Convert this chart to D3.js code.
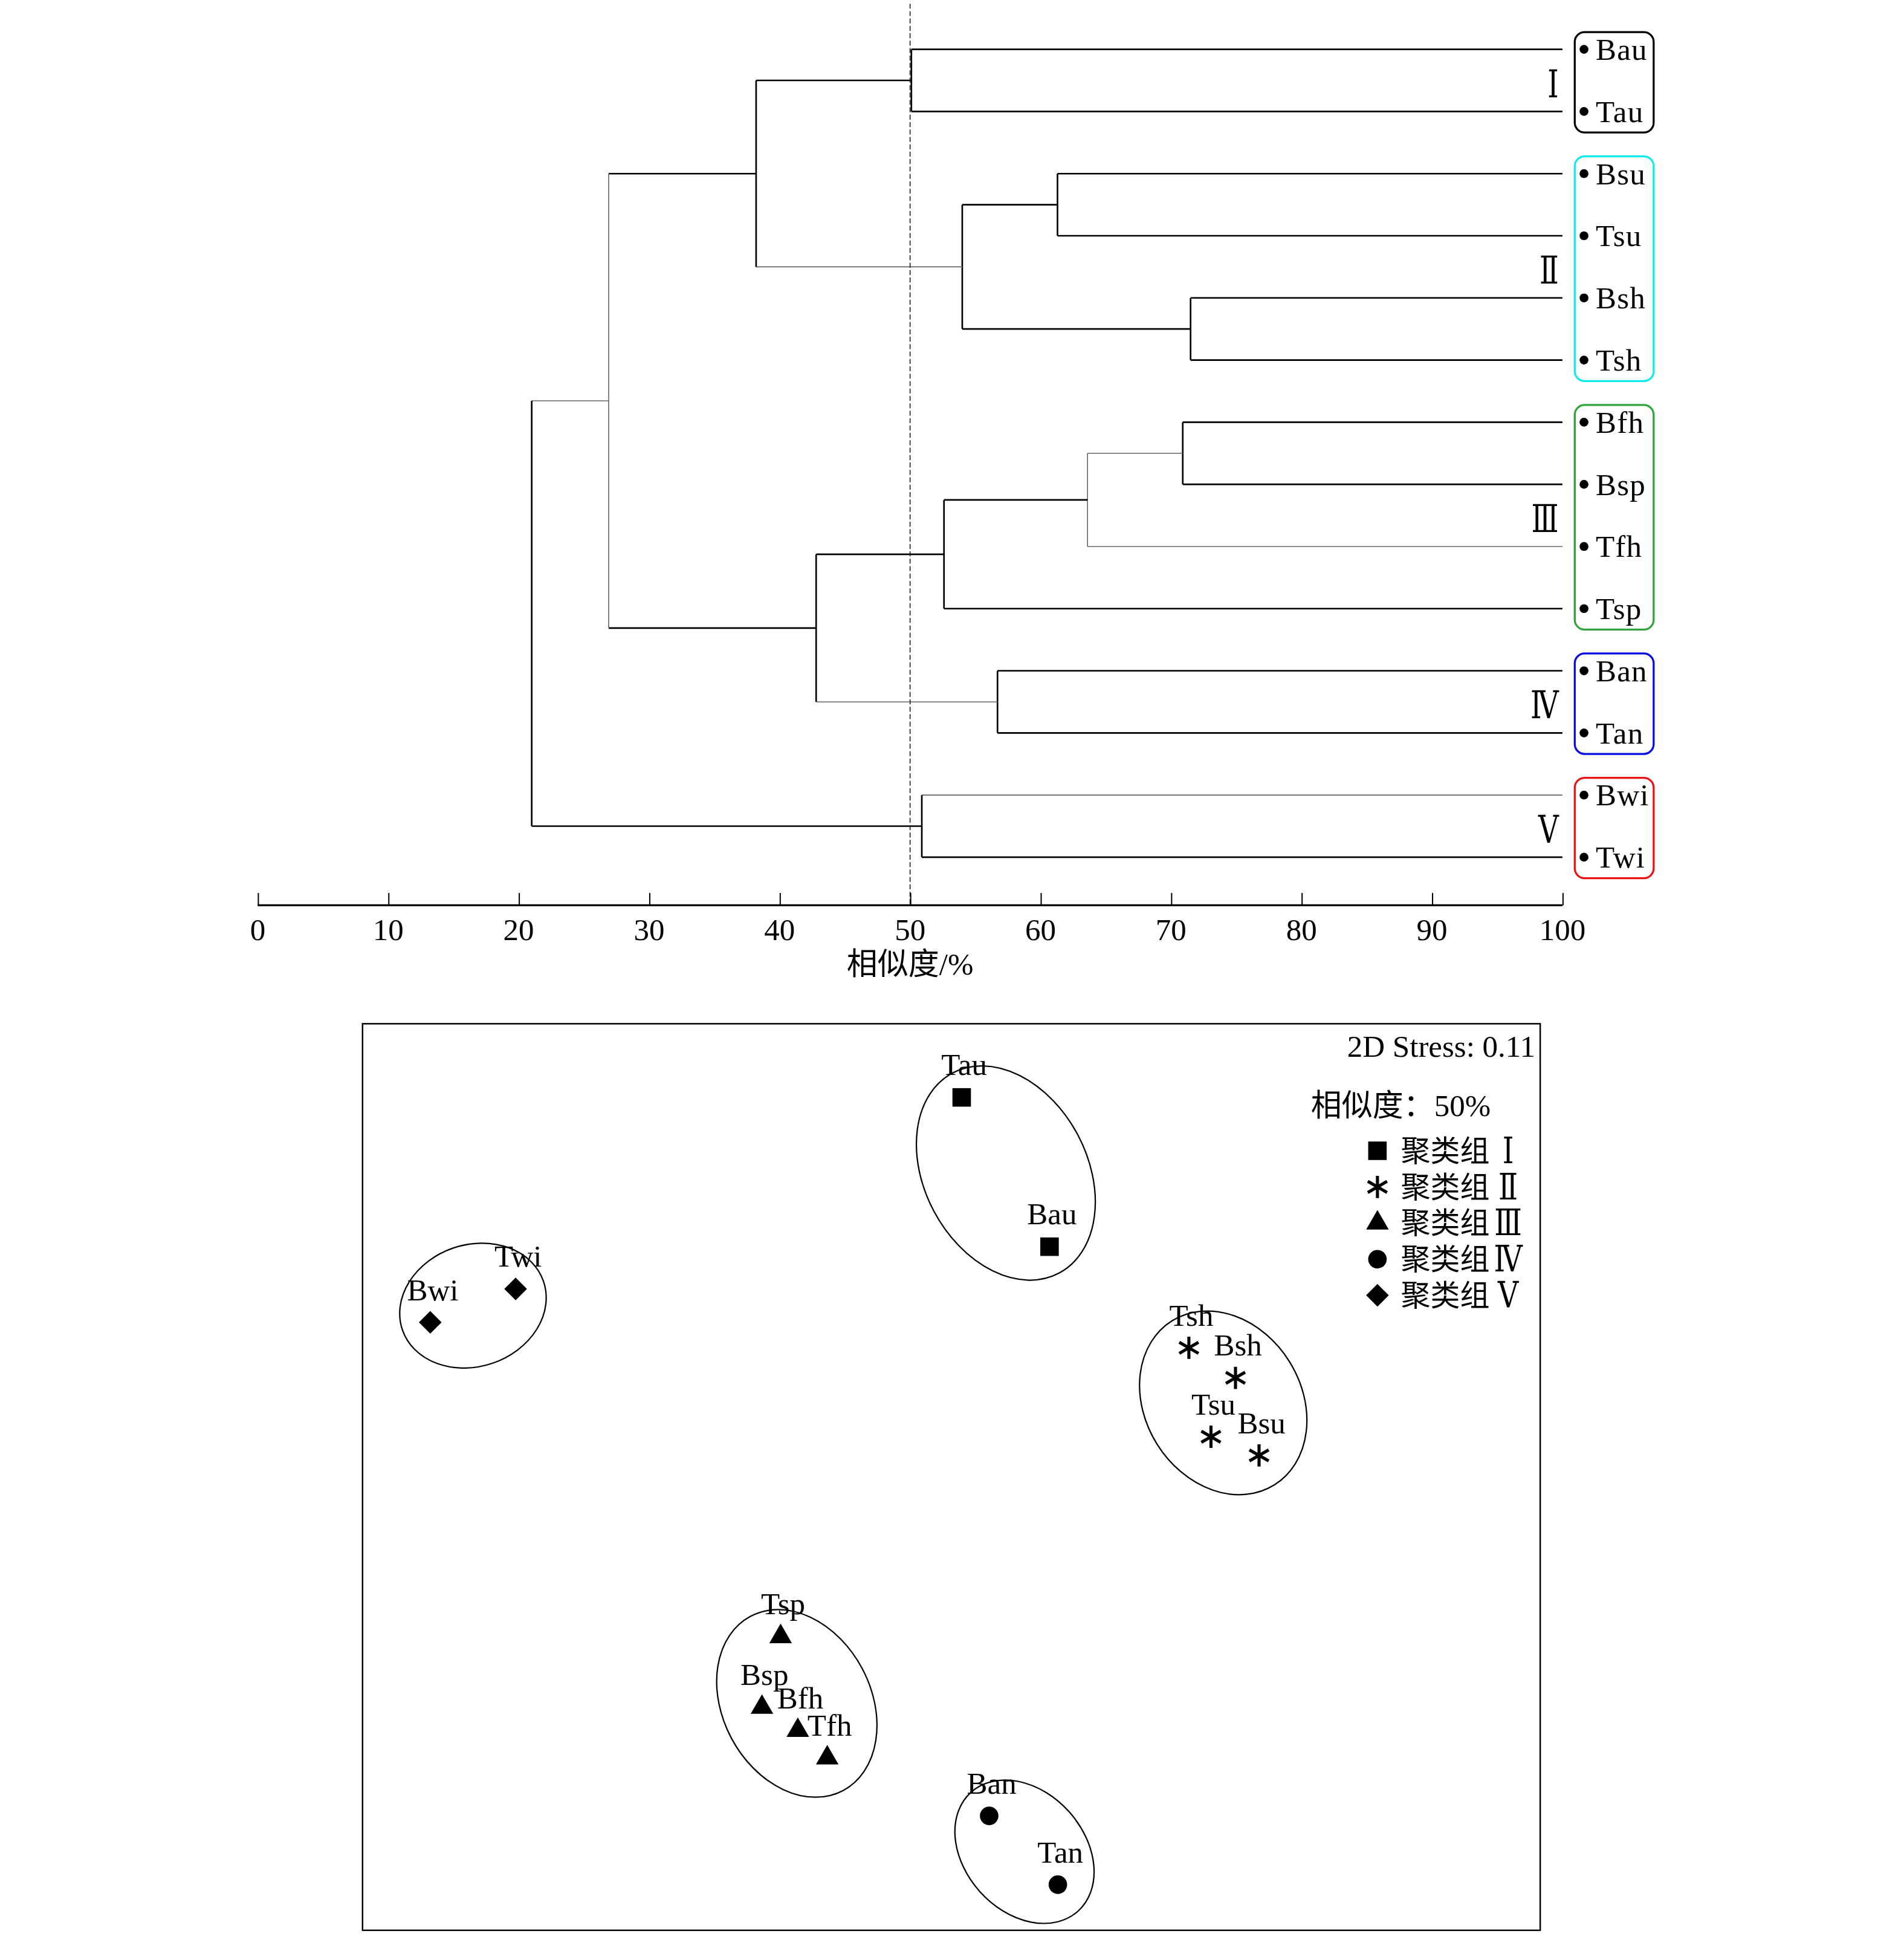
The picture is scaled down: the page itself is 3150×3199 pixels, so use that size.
<!DOCTYPE html>
<html>
<head>
<meta charset="utf-8">
<script src="https://cdn.jsdelivr.net/npm/d3@7"></script>
<style>
  html, body { margin: 0; padding: 0; background: #fff; }
  svg { display: block; }
</style>
</head>
<body>
<div id="chart"></div>
<script>
// ---- data: cluster dendrogram ----
const leaves = ['Bau', 'Tau', 'Bsu', 'Tsu', 'Bsh', 'Tsh', 'Bfh', 'Bsp', 'Tfh', 'Tsp', 'Ban', 'Tan', 'Bwi', 'Twi'];
const mergeIds = ['m1', 'm2', 'm3', 'm4', 'm5', 'm6', 'm7', 'm8', 'm9', 'm10', 'm11', 'm12', 'm13'];
const mergeLeft = ['Bau', 'Bsu', 'Bsh', 'm2', 'm1', 'Bfh', 'm6', 'm7', 'Ban', 'm8', 'm5', 'Bwi', 'm11'];
const mergeRight = ['Tau', 'Tsu', 'Tsh', 'm3', 'm4', 'Bsp', 'Tfh', 'Tsp', 'Tan', 'm9', 'm10', 'Twi', 'm12'];
const mergeSimilarity = [50.1, 61.3, 71.5, 54.0, 38.2, 70.9, 63.6, 52.6, 56.7, 42.8, 26.9, 50.9, 21.0];
const simTicks = [0, 10, 20, 30, 40, 50, 60, 70, 80, 90, 100];
const cutoff = 50;

const clusterNames = ['Ⅰ', 'Ⅱ', 'Ⅲ', 'Ⅳ', 'Ⅴ'];
const clusterMembers = [
  ['Bau', 'Tau'],
  ['Bsu', 'Tsu', 'Bsh', 'Tsh'],
  ['Bfh', 'Bsp', 'Tfh', 'Tsp'],
  ['Ban', 'Tan'],
  ['Bwi', 'Twi'],
];
const clusterColors = ['#000000', '#14eaea', '#2ea43a', '#0a0ae6', '#ee1111'];

// ---- data: nMDS ordination ----
const samples = ['Tau', 'Bau', 'Twi', 'Bwi', 'Tsh', 'Bsh', 'Tsu', 'Bsu', 'Tsp', 'Bsp', 'Bfh', 'Tfh', 'Ban', 'Tan'];
const mds1 = [0.021, 0.200, -0.888, -1.062, 0.484, 0.579, 0.529, 0.627, -0.348, -0.386, -0.313, -0.253, 0.077, 0.217];
const mds2 = [0.773, 0.469, 0.383, 0.315, 0.263, 0.202, 0.082, 0.044, -0.325, -0.469, -0.516, -0.572, -0.690, -0.830];
const sampleCluster = [0, 0, 4, 4, 1, 1, 1, 1, 2, 2, 2, 2, 3, 3];

// 50% similarity contours, one per cluster (MDS units)
const ellipseCx = [0.111, 0.554, -0.315, 0.149, -0.975];
const ellipseCy = [0.619, 0.151, -0.461, -0.763, 0.349];
const ellipseA = [0.231, 0.197, 0.201, 0.163, 0.152];
const ellipseB = [0.166, 0.159, 0.151, 0.122, 0.124];
const ellipseTilt = [62, 58, 62, 48, -19];

const stressText = '2D Stress: 0.11';
const contourText = '相似度：50%';
const legendPrefix = '聚类组';

// ---- svg, drawn in a 1544 x 1568 unit space ----
const latin = "'Liberation Serif', 'DejaVu Serif', 'Noto Sans CJK SC', serif";
const svg = d3
  .select('#chart')
  .append('svg')
  .attr('width', 3150)
  .attr('height', 3199)
  .attr('viewBox', '0 0 1544 1568')
  .style('font-family', latin);

// dendrogram scales
const xSim = d3.scaleLinear().domain([0, 100]).range([209, 1267]);
const yLeaf = d3.scalePoint().domain(leaves).range([40, 695]);

const nodeY = {};
const nodeX = {};
leaves.forEach((l) => {
  nodeY[l] = yLeaf(l);
  nodeX[l] = xSim(100);
});
mergeIds.forEach((id, i) => {
  nodeY[id] = (nodeY[mergeLeft[i]] + nodeY[mergeRight[i]]) / 2;
  nodeX[id] = xSim(mergeSimilarity[i]);
});

// a few branches come out lighter in the original
const lightLinks = ['m4', 'm11', 'm9', 'm6', 'Tfh', 'Bwi'];
const lightJoins = ['m11', 'm7'];

const tree = svg.append('g').attr('fill', 'none');
mergeIds.forEach((id, i) => {
  const px = nodeX[id];
  [mergeLeft[i], mergeRight[i]].forEach((c) => {
    const light = lightLinks.includes(c);
    tree
      .append('line')
      .attr('x1', px)
      .attr('x2', nodeX[c])
      .attr('y1', nodeY[c])
      .attr('y2', nodeY[c])
      .attr('stroke', light ? '#666' : '#000')
      .attr('stroke-width', light ? 0.8 : 1.3);
  });
  const lightJ = lightJoins.includes(id);
  tree
    .append('line')
    .attr('x1', px)
    .attr('x2', px)
    .attr('y1', nodeY[mergeLeft[i]])
    .attr('y2', nodeY[mergeRight[i]])
    .attr('stroke', lightJ ? '#666' : '#000')
    .attr('stroke-width', lightJ ? 0.8 : 1.3);
});

// 50% cut line
svg
  .append('line')
  .attr('x1', xSim(cutoff))
  .attr('x2', xSim(cutoff))
  .attr('y1', 3)
  .attr('y2', 734)
  .attr('stroke', '#222')
  .attr('stroke-width', 0.8)
  .attr('stroke-dasharray', '4,2');

// similarity axis
const axisG = svg.append('g').attr('transform', 'translate(0,734)');
axisG.call(d3.axisTop(xSim).tickValues(simTicks).tickSize(10).tickFormat(''));
axisG.select('.domain').attr('stroke', '#000').attr('stroke-width', 1.6).attr('d', `M${xSim(0)},0H${xSim(100)}`);
axisG.selectAll('.tick line').attr('stroke', '#000').attr('stroke-width', 1);
axisG
  .selectAll('.tick-label')
  .data(simTicks)
  .join('text')
  .attr('class', 'tick-label')
  .attr('x', (d) => xSim(d))
  .attr('y', 28)
  .attr('fill', '#000')
  .attr('text-anchor', 'middle')
  .attr('font-family', latin)
  .attr('font-size', 25)
  .text((d) => d);
svg
  .append('text')
  .attr('x', 738)
  .attr('y', 790)
  .attr('text-anchor', 'middle')
  .attr('font-size', 25)
  .text('相似度/%');

// leaf labels, dots, cluster boxes
const leafG = svg.append('g');
leafG
  .selectAll('circle')
  .data(leaves)
  .join('circle')
  .attr('cx', 1284.5)
  .attr('cy', (d) => yLeaf(d))
  .attr('r', 3.6)
  .attr('fill', '#000');
leafG
  .selectAll('text')
  .data(leaves)
  .join('text')
  .attr('x', 1294)
  .attr('y', (d) => yLeaf(d) + 8.5)
  .attr('font-size', 25)
  .attr('letter-spacing', 0.6)
  .text((d) => d);

clusterMembers.forEach((members, i) => {
  const ys = members.map((m) => yLeaf(m));
  const top = d3.min(ys) - 14;
  const bottom = d3.max(ys) + 17;
  svg
    .append('rect')
    .attr('x', 1277)
    .attr('y', top)
    .attr('width', 64)
    .attr('height', bottom - top)
    .attr('rx', 8)
    .attr('fill', 'none')
    .attr('stroke', clusterColors[i])
    .attr('stroke-width', 1.6);
  svg
    .append('text')
    .attr('transform', `translate(1264,${d3.mean(ys) + 13.5}) scale(0.74,1)`)
    .attr('text-anchor', 'end')
    .attr('font-size', 31)
    .text(clusterNames[i]);
});

// ---- nMDS panel ----
const xMds = d3.scaleLinear().domain([-1.2, 1.2]).range([294, 1249]);
const yMds = d3.scaleLinear().domain([-0.923, 0.923]).range([1565, 830]);

svg
  .append('rect')
  .attr('x', xMds(-1.2))
  .attr('y', yMds(0.923))
  .attr('width', xMds(1.2) - xMds(-1.2))
  .attr('height', yMds(-0.923) - yMds(0.923))
  .attr('fill', 'none')
  .attr('stroke', '#000')
  .attr('stroke-width', 1.2);

const unit = xMds(1) - xMds(0);
svg
  .append('g')
  .selectAll('ellipse')
  .data(ellipseCx)
  .join('ellipse')
  .attr('transform', (d, i) => `translate(${xMds(d)},${yMds(ellipseCy[i])}) rotate(${ellipseTilt[i]})`)
  .attr('rx', (d, i) => ellipseA[i] * unit)
  .attr('ry', (d, i) => ellipseB[i] * unit)
  .attr('fill', 'none')
  .attr('stroke', '#000')
  .attr('stroke-width', 1.1);

// marker per cluster
const markerType = [d3.symbolSquare, d3.symbolAsterisk, d3.symbolTriangle, d3.symbolCircle, d3.symbolSquare];
const markerSize = [225, 229, 145, 177, 169];
const markerRotate = [0, 0, 0, 0, 45];
const isStroke = [false, true, false, false, false];
const drawMarker = (g, c) => {
  g.append('path')
    .attr('d', d3.symbol(markerType[c], markerSize[c])())
    .attr('transform', `rotate(${markerRotate[c]})`)
    .attr('fill', isStroke[c] ? 'none' : '#000')
    .attr('stroke', isStroke[c] ? '#000' : 'none')
    .attr('stroke-width', isStroke[c] ? 2.5 : 0);
};

const pts = svg
  .append('g')
  .selectAll('g')
  .data(samples)
  .join('g')
  .attr('transform', (d, i) => `translate(${xMds(mds1[i])},${yMds(mds2[i])})`);
pts.each(function (d, i) {
  drawMarker(d3.select(this), sampleCluster[i]);
});
pts
  .append('text')
  .attr('x', 2)
  .attr('y', -18)
  .attr('text-anchor', 'middle')
  .attr('font-size', 25)
  .text((d) => d);

// stress + legend
svg
  .append('text')
  .attr('x', 1245)
  .attr('y', 857)
  .attr('text-anchor', 'end')
  .attr('font-size', 25)
  .text(stressText);
svg
  .append('text')
  .attr('x', 1063)
  .attr('y', 905)
  .attr('font-size', 25)
  .text(contourText);

const legend = svg
  .append('g')
  .selectAll('g')
  .data(clusterNames)
  .join('g')
  .attr('transform', (d, i) => `translate(1117,${933 + i * 29.3})`);
legend.each(function (d, i) {
  drawMarker(d3.select(this), i);
});
legend
  .append('text')
  .attr('x', 19)
  .attr('y', 8.5)
  .attr('font-size', 24)
  .text(legendPrefix);
legend
  .append('text')
  .attr('transform', 'translate(106,10) scale(0.8,1)')
  .attr('text-anchor', 'middle')
  .attr('font-size', 29)
  .text((d) => d);
</script>
</body>
</html>
